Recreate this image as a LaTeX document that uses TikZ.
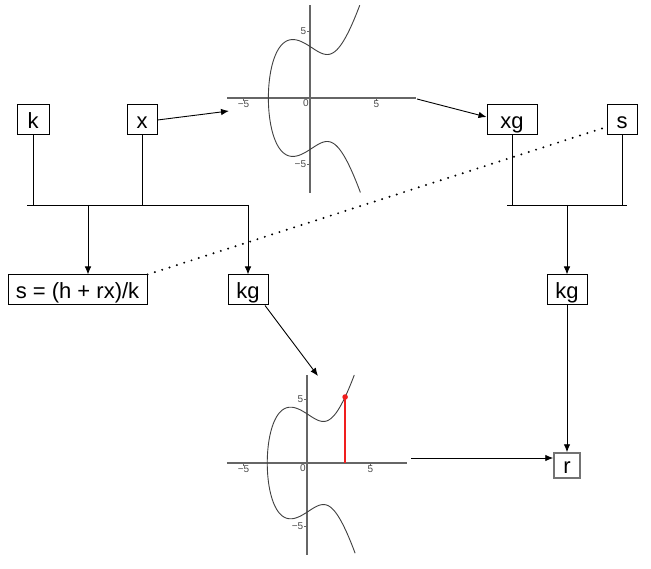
\documentclass[tikz,border=0pt]{standalone}
\usepackage{fontspec}
\setmainfont{Liberation Sans}
\usetikzlibrary{arrows.meta}
\definecolor{ptred}{RGB}{240,30,30}
\begin{document}
\begin{tikzpicture}[x=1pt,y=-1pt,
  box/.style={draw, line width=1pt, inner sep=0pt, minimum height=30pt, text height=22pt, text depth=4pt, font=\fontsize{22}{24}\selectfont},
  conn/.style={line width=0.9pt},
  arr/.style={line width=0.9pt, -{Latex[length=8pt,width=6.5pt]}},
  ax/.style={draw=black!60, line width=1.2pt},
  tk/.style={draw=black!60, line width=0.8pt},
  ticklab/.style={font=\fontsize{10}{11}\selectfont, text=black!70, inner sep=1pt},
  curve/.style={draw=black!75, line width=0.9pt},
  dotline/.style={line width=2.2pt, dash pattern=on 0pt off 7.7pt, line cap=round},
  declare function={cx(\t)=-3.1294+\t*\t; cf(\u)=\u*\u*\u-5*\u+15;}]
\useasboundingbox (0,0) rectangle (651,569);
\fill[white] (0,0) rectangle (651,569);

% nodes
\node[box, minimum width=32pt] (k) at (33,120) {k};
\node[box, minimum width=30pt] (x) at (142,120) {x};
\node[box, minimum width=50pt] (xg) at (512,120) {xg};
\node[box, minimum width=30pt] (s) at (622,120) {s};
\node[box, minimum width=139pt] (sf) at (77.5,290) {s = (h + rx)/k};
\node[box, minimum width=40pt] (kg1) at (248,290) {kg};
\node[box, minimum width=40pt] (kg2) at (567,290) {kg};
\node[box, draw=black!55, line width=1.5pt, minimum width=26pt, minimum height=25pt, text height=19pt, text depth=4pt] (r) at (567,465.5) {r};

% top plot
\begin{scope}[shift={(310,98)}, x=13.3pt, y=13.3pt]
  \draw[ax] (-6.24,0) -- (7.97,0);
  \draw[ax] (0,-7.14) -- (0,6.99);
  \draw[tk] (-5,0) -- (-5,-0.2);
  \draw[tk] (5,0) -- (5,-0.2);
  \draw[tk] (0,5) -- (-0.2,5);
  \draw[tk] (0,-5) -- (-0.2,-5);
  \node[ticklab, below] at (-5,-0.1) {−5};
  \node[ticklab, below left] at (0,-0.05) {0};
  \node[ticklab, below] at (5,-0.1) {5};
  \node[ticklab, left] at (-0.2,5) {5};
  \node[ticklab, left] at (-0.2,-5) {−5};
  \draw[curve] plot[domain=-2.63:2.623, samples=241] ({cx(\x)},{sign(\x)*sqrt(max(0,cf(cx(\x))))});
\end{scope}

% bottom plot
\begin{scope}[shift={(307,463)}, x=12.7pt, y=12.7pt]
  \draw[ax] (-6.3,0) -- (7.87,0);
  \draw[ax] (0,-7.24) -- (0,6.93);
  \draw[tk] (-5,0) -- (-5,-0.2);
  \draw[tk] (5,0) -- (5,-0.2);
  \draw[tk] (0,5) -- (-0.2,5);
  \draw[tk] (0,-5) -- (-0.2,-5);
  \node[ticklab, below] at (-5,-0.1) {−5};
  \node[ticklab, below left] at (0,-0.05) {0};
  \node[ticklab, below] at (5,-0.1) {5};
  \node[ticklab, left] at (-0.2,5) {5};
  \node[ticklab, left] at (-0.2,-5) {−5};
  \draw[curve] plot[domain=-2.63:2.618, samples=241] ({cx(\x)},{sign(\x)*sqrt(max(0,cf(cx(\x))))});
  \draw[draw=ptred, line width=1.3pt] (3,0) -- (3,5.196);
  \fill[fill=ptred] (3,5.196) circle (2.8pt);
\end{scope}

% plot attachment points
\coordinate (p1in) at (229,111);
\coordinate (p1out) at (417,99);
\coordinate (p2in) at (318,376);
\coordinate (p2out) at (411,458);
\coordinate (b1) at (88,205);
\coordinate (b2) at (248,205);
\coordinate (b3) at (567,205);

% left bracket
\draw[conn] (k.south) -- (k.south |- b1);
\draw[conn] (x.south) -- (x.south |- b1);
\draw[conn] (27,205) -- (b2);
\draw[arr] (b1) -- (b1 |- sf.north);
\draw[arr] (b2) -- (kg1.north);

% right bracket
\draw[conn] (xg.south) -- (xg.south |- b3);
\draw[conn] (s.south) -- (s.south |- b3);
\draw[conn] (507,205) -- (627,205);
\draw[arr] (b3) -- (kg2.north);
\draw[arr] (kg2.south) -- (r.north);

% arrows to/from plots
\draw[arr] (x.east) -- (p1in);
\draw[arr] (p1out) -- ([yshift=3pt]xg.west);
\draw[arr] ([xshift=17pt]kg1.south) -- (p2in);
\draw[arr] (p2out) -- (p2out -| r.west);

% dotted link
\draw[dotline] (sf.north east) -- ([yshift=-7pt]s.west);
\end{tikzpicture}
\end{document}
